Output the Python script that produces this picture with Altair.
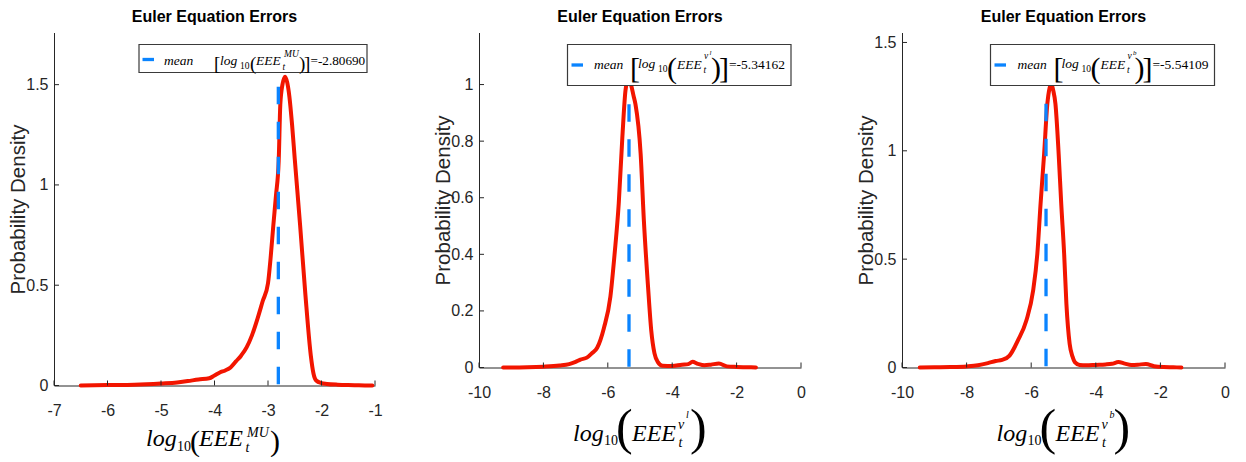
import altair as alt
import pandas as pd

# ---------------- data ----------------
x1 = [-6.5, -6.0, -5.5, -5.0, -4.7, -4.5, -4.3, -4.1, -4.0, -3.9, -3.8, -3.7, -3.6, -3.5,
      -3.4, -3.3, -3.2, -3.1, -3.0, -2.95, -2.9, -2.85, -2.8, -2.77, -2.73, -2.68, -2.64,
      -2.6, -2.55, -2.5, -2.4, -2.3, -2.2, -2.15, -2.1, -2.0, -1.9, -1.7, -1.5, -1.3, -1.05]
d1 = [0.0, 0.002, 0.004, 0.01, 0.015, 0.022, 0.03, 0.036, 0.05, 0.065, 0.075, 0.09, 0.12, 0.15,
      0.19, 0.25, 0.33, 0.42, 0.51, 0.64, 0.80, 0.95, 1.12, 1.40, 1.50, 1.54, 1.51,
      1.44, 1.30, 1.13, 0.80, 0.45, 0.15, 0.06, 0.025, 0.012, 0.008, 0.004, 0.002, 0.001, 0.0]

x2 = [-9.25, -8.5, -8.0, -7.5, -7.2, -7.0, -6.85, -6.65, -6.5, -6.33, -6.12, -5.92, -5.79, -5.66,
      -5.55, -5.45, -5.4, -5.34, -5.28, -5.2, -5.14, -4.98, -4.88, -4.75, -4.65, -4.55, -4.45,
      -4.3, -4.0, -3.7, -3.5, -3.37, -3.2, -3.0, -2.8, -2.55, -2.3, -2.0, -1.7, -1.4]
d2 = [0.0, 0.001, 0.003, 0.007, 0.012, 0.02, 0.028, 0.035, 0.05, 0.07, 0.14, 0.25, 0.40, 0.58,
      0.81, 0.98, 1.01, 1.02, 1.0, 0.96, 0.93, 0.755, 0.52, 0.285, 0.13, 0.05, 0.02,
      0.006, 0.005, 0.01, 0.012, 0.02, 0.013, 0.008, 0.01, 0.014, 0.004, 0.002, 0.001, 0.0]

x3 = [-9.45, -9.0, -8.5, -8.0, -7.65, -7.34, -7.1, -6.9, -6.67, -6.41, -6.15, -5.94, -5.81, -5.71,
      -5.6, -5.5, -5.43, -5.38, -5.32, -5.25, -5.15, -5.07, -4.98, -4.91, -4.81, -4.72, -4.65,
      -4.5, -4.3, -4.0, -3.7, -3.5, -3.3, -3.1, -2.9, -2.7, -2.45, -2.2, -1.9, -1.6, -1.35]
d3 = [0.0, 0.001, 0.002, 0.005, 0.01, 0.02, 0.03, 0.035, 0.055, 0.125, 0.217, 0.355, 0.525, 0.755,
      0.986, 1.217, 1.29, 1.31, 1.28, 1.217, 0.986, 0.755, 0.525, 0.294, 0.11, 0.05, 0.025,
      0.012, 0.01, 0.012, 0.014, 0.017, 0.025, 0.018, 0.012, 0.013, 0.016, 0.006, 0.002, 0.001, 0.0]

means = [-2.80690, -5.34162, -5.54109]
mean_tops = [1.49, 0.93, 1.217]
mean_texts = ["=-2.80690", "=-5.34162", "=-5.54109"]

x_ticks1 = [-7, -6, -5, -4, -3, -2, -1]
x_ticks23 = [-10, -8, -6, -4, -2, 0]
y_ticks1 = [0, 0.5, 1, 1.5]
y_ticks2 = [0, 0.2, 0.4, 0.6, 0.8, 1]
y_ticks3 = [0, 0.5, 1, 1.5]

title_text = "Euler Equation Errors"
y_title = "Probability Density"

# ---------------- styling ----------------
SANS = "Liberation Sans, Arial, Helvetica, sans-serif"
SERIF = "Liberation Serif, Times New Roman, serif"
AX = "#262626"
RED = "#f21500"
BLUE = "#0a84ff"
one = pd.DataFrame({"k": [0]})


def txt(t, x, y, size, italic):
    kw = dict(font=SERIF, fontSize=size, align="left", baseline="alphabetic", color="#000")
    if italic:
        kw["fontStyle"] = "italic"
    return alt.Chart(one).mark_text(**kw).encode(
        x=alt.value(x), y=alt.value(y), text=alt.value(t))


def panel(xv, dv, mean, mtop, xdom, ydom, xt, yt, W, H, box, dash, pieces, ox, oy):
    xs = alt.Scale(domain=xdom, nice=False, zero=False)
    ys = alt.Scale(domain=ydom, nice=False, zero=False)
    xaxis = alt.Axis(values=xt, title=None, ticks=False, grid=False, domainColor=AX,
                     domainWidth=1, labelColor=AX, labelFont=SANS, labelFontSize=16,
                     labelPadding=17, labelFlush=False, labelOverlap=False,
                     labelExpr="'' + datum.value")
    yaxis = alt.Axis(values=yt, title=y_title, ticks=False, grid=False, domainColor=AX,
                     domainWidth=1, labelColor=AX, labelFont=SANS, labelFontSize=16,
                     labelPadding=6, labelFlush=False, labelOverlap=False,
                     labelExpr="'' + datum.value", titleFont=SANS, titleFontSize=20.5,
                     titleFontWeight="normal", titleColor=AX, titlePadding=-3)
    df = pd.DataFrame({"x": xv, "d": dv})
    curve = alt.Chart(df).mark_line(color=RED, strokeWidth=4, interpolate="monotone",
                                    strokeJoin="round", strokeCap="round").encode(
        x=alt.X("x:Q", scale=xs, axis=xaxis), y=alt.Y("d:Q", scale=ys, axis=yaxis))
    mline = alt.Chart(pd.DataFrame({"m": [mean], "top": [mtop], "z": [0]})).mark_rule(
        color=BLUE, strokeWidth=3.3, strokeDash=[17.5, 17.5]).encode(
        x=alt.X("m:Q", scale=xs, axis=xaxis), y=alt.Y("top:Q", scale=ys, axis=yaxis),
        y2=alt.Y2("z:Q"))
    xtk = alt.Chart(pd.DataFrame({"v": xt})).mark_rule(color=AX, strokeWidth=1).encode(
        x=alt.X("v:Q", scale=xs, axis=xaxis), y=alt.value(H), y2=alt.value(H - 5))
    ytk = alt.Chart(pd.DataFrame({"v": yt})).mark_rule(color=AX, strokeWidth=1).encode(
        y=alt.Y("v:Q", scale=ys, axis=yaxis), x=alt.value(0), x2=alt.value(5))
    lbox = alt.Chart(one).mark_rect(fill="white", stroke="#3a3a3a", strokeWidth=1.2).encode(
        x=alt.value(box[0] - ox), x2=alt.value(box[2] - ox),
        y=alt.value(box[1] - oy), y2=alt.value(box[3] - oy))
    lsample = alt.Chart(one).mark_rule(color=BLUE, strokeWidth=3.3).encode(
        x=alt.value(dash[0] - ox), x2=alt.value(dash[1] - ox), y=alt.value(dash[2] - oy))
    texts = [txt(t, x - ox, y - oy, s, it) for (t, x, y, s, it) in pieces]
    return alt.layer(curve, mline, xtk, ytk, lbox, lsample, *texts).properties(
        width=W, height=H,
        title=alt.Title(title_text, font=SANS, fontSize=16, fontWeight="bold",
                        color="#000", anchor="middle", frame="group", offset=8))


# text pieces: (text, left x, baseline y, size, italic) in reference pixel coordinates
pieces1 = [
    ("mean", 163, 64.5, 13.5, True), ("[", 213, 69, 19, False), ("log", 219, 64.5, 13.5, True),
    ("10", 239, 68, 9.5, False), ("(", 249, 69, 19, False), ("EEE", 255, 64.5, 13.5, True),
    ("t", 281.5, 69, 9.5, True), ("MU", 283, 56, 9.5, True), (")", 298, 69, 19, False),
    ("]", 303, 69, 19, False), (mean_texts[0], 309.5, 64.5, 13.2, False),
    ("log", 145, 445, 24, True), ("10", 176, 450, 14, False), ("(", 189, 450, 30, False),
    ("EEE", 198, 445, 24, True), ("t", 244.5, 451, 14, True), ("MU", 246, 436, 14, True),
    (")", 269, 450, 30, False),
]


def pieces_23(sup, mtxt, shift):
    p = [
        ("mean", 594, 68, 13.5, True), ("[", 630, 77, 30, False), ("log", 638, 67, 13.5, True),
        ("10", 658, 71.5, 9.5, False), ("(", 667, 77, 30, False), ("EEE", 677, 68, 13.5, True),
        ("t", 703.5, 72, 9.5, True), ("ν", 704, 58, 9.5, True), (sup, 709.5, 54, 7, True),
        (")", 711, 77, 30, False), ("]", 719, 77, 30, False), (mtxt, 729, 68, 13.5, False),
        ("log", 573, 440, 24, True), ("10", 604, 444, 14, False), ("(", 616, 443, 50, False),
        ("EEE", 632, 440, 24, True), ("t", 678.5, 446, 14, True), ("ν", 678, 428, 14, True),
        (sup, 686, 417, 10, True), (")", 690, 443, 50, False),
    ]
    return [(t, x + shift, y, s, i) for (t, x, y, s, i) in p]


p1 = panel(x1, d1, means[0], mean_tops[0], [-7, -1], [0, 1.76], x_ticks1, y_ticks1,
           321, 353, (138, 44, 366, 72), (141.5, 153, 59), pieces1, 53, 32)
p2 = panel(x2, d2, means[1], mean_tops[1], [-10, 0], [0, 1.184], x_ticks23, y_ticks2,
           322, 335, (567.5, 44, 791, 85), (571.5, 583, 64.5),
           pieces_23("l", mean_texts[1], 0), 479, 32)
p3 = panel(x3, d3, means[2], mean_tops[2], [-10, 0], [0, 1.546], x_ticks23, y_ticks3,
           323, 335, (993, 44, 1217, 85), (997, 1008.5, 64.5),
           pieces_23("b", mean_texts[2], 426), 904.5, 32)

chart = alt.hconcat(p1, p2, p3, spacing=50).properties(
    padding={"left": 8, "top": 8.5, "right": 0, "bottom": 0},
    background="white",
).configure_view(stroke=None)

chart.save("out.html", embed_options={"renderer": "svg", "actions": False})
